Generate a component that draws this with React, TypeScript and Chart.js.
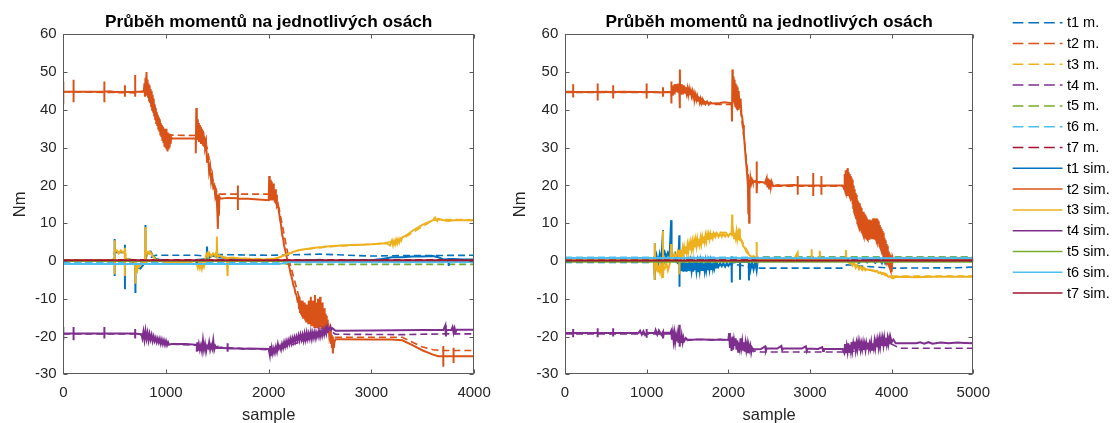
import React, { useEffect, useRef } from 'react';
import { Chart, registerables } from 'chart.js';
Chart.register(...registerables);

type P = [number, number][];

const TITLE = 'Průběh momentů na jednotlivých osách';
const X_LABEL = 'sample';
const Y_LABEL = 'Nm';
const Y_MIN = -30;
const Y_MAX = 60;
const Y_STEP = 10;
const X_STEP = 1000;
const LEFT_X_MAX = 4000;
const RIGHT_X_MAX = 5000;
const LEGEND_LABELS = ['t1 m.', 't2 m.', 't3 m.', 't4 m.', 't5 m.', 't6 m.', 't7 m.', 't1 sim.', 't2 sim.', 't3 sim.', 't4 sim.', 't5 sim.', 't6 sim.', 't7 sim.'];
const COLORS = ['#0072BD', '#D95319', '#EDB120', '#7E2F8E', '#77AC30', '#4DBEEE', '#A2142F'];

// ---------------- LEFT PLOT (0..4000) ----------------
const L_T1_M: P = [[0, 0], [800, 0.3], [900, 1.5], [1300, 1.5], [1400, 1.2], [1500, 1.7], [2000, 1.5], [2500, 1.8], [3000, 1.3], [3200, 1.4], [4000, 1.5]];
const L_T2_M: P = [[0, 44.8], [700, 44.5], [780, 45], [800, 47], [850, 44], [900, 40], [950, 36], [1000, 34], [1050, 33.3], [1100, 33.3], [1290, 33.2], [1350, 33.5], [1400, 30], [1450, 22], [1500, 17.7], [1600, 17.7], [2000, 17.7], [2050, 17.5], [2100, 14], [2200, 0], [2300, -10], [2400, -14], [2500, -16], [2580, -18], [2620, -21], [2650, -20.2], [3300, -20.2], [3400, -21.5], [3500, -22.8], [3600, -23.5], [3700, -23.7], [4000, -23.7]];
const L_T3_M: P = [[0, 0.2], [480, 0.2], [500, 2.5], [600, 2.5], [620, 0.5], [800, 0], [820, 2], [880, 1.5], [900, 0.3], [1300, -0.5], [1350, -1.2], [1400, 1.5], [1500, 1.2], [1600, 0.8], [2000, 0.5], [2100, 0.9], [2300, 2.9], [2600, 3.8], [3100, 4.6], [3300, 5.8], [3600, 10.8], [3700, 11], [4000, 10.9]];
const L_T4_M: P = [[0, -19.3], [700, -19.3], [800, -19.8], [900, -20.8], [1000, -21.8], [1100, -22.1], [1300, -22.3], [1500, -22.8], [2000, -23.5], [2100, -23.3], [2300, -21.5], [2500, -19.8], [2600, -18.5], [2650, -19.4], [3300, -19.5], [3700, -19.3], [4000, -19.3]];
const L_T5_M: P = [[0, -0.4], [2100, -0.5], [2200, -0.9], [4000, -0.9]];
const L_T6_M: P = [[0, -0.4], [4000, -0.4]];
const L_T7_M: P = [[0, 0.3], [4000, 0.3]];

const L_T1_SIM: P = [[0, 0], [480, 0], [500, 0], [500, 5.8], [500, -4], [500, 2.3], [550, 2.3], [600, 2.3], [600, 4.3], [600, -7.5], [600, 0.5], [650, 0.3], [700, -0.5], [700, -8.5], [705, -1.5], [750, -2], [780, -1], [800, 0], [800, 9.5], [800, -1], [810, 2], [850, 2.5], [870, 1.5], [900, 0.5], [1000, 0], [1300, 0], [1300, -1], [1305, 0.3], [1395, 0.5], [1400, 3.8], [1400, 0.3], [1450, 1.5], [1500, 1], [1600, 0.8], [1700, 0.5], [1800, 0.3], [2000, 0], [2200, 0], [2500, 0.3], [2600, -0.3], [2700, 0], [2800, 0.2], [3000, 0.2], [3100, 0.5], [3200, 1], [3300, 1], [3400, 1.2], [3500, 1.2], [3600, 1.3], [3650, 1], [3700, 0.4], [3750, 0.5], [3750, -1.3], [3755, 0.5], [3800, 0.5], [3900, 0.4], [4000, 0.4]];
const L_T2_SIM: P = [[0, 44.8], [0, 41.5], [0, 47.5], [0, 44.8], [100, 44.8], [100, 42], [100, 48], [100, 44.8], [300, 44.8], [400, 44.8], [400, 42], [400, 47.5], [400, 44.8], [450, 44.9], [500, 44.7], [600, 44.7], [600, 43.5], [600, 46.5], [600, 44.7], [700, 44.7], [700, 43.5], [700, 49.2], [700, 44.8], [780, 44.8],
  [785, 45], [790, 47], [795, 43.5], [800, 48.5], [805, 44.5], [810, 50], [815, 44], [820, 48], [825, 43.5], [830, 47], [835, 42.5], [840, 46.5], [845, 42], [850, 45.5], [855, 41], [860, 45], [865, 40], [870, 44], [875, 39.5], [880, 43], [885, 38.5], [890, 41.5], [895, 37.5], [900, 40.5], [905, 36.5], [910, 39.5], [915, 36], [920, 38.5], [925, 35], [930, 38], [935, 34.5], [940, 37.5], [945, 33.5], [950, 36.5], [955, 33], [960, 36], [965, 32], [970, 35.5], [975, 31.5], [980, 35], [985, 30.5], [990, 34.5], [995, 30], [1000, 35], [1005, 29.5], [1010, 34], [1015, 29], [1020, 33.5], [1025, 29.5], [1030, 33.5], [1035, 30], [1040, 33], [1045, 31], [1050, 32.8], [1060, 32.4],
  [1200, 32.4], [1290, 32.4], [1290, 28.5], [1295, 40.5], [1300, 33], [1305, 37.5], [1310, 32], [1315, 36.5], [1320, 31.5], [1325, 36], [1330, 32], [1335, 35.5], [1340, 31], [1345, 35], [1350, 31], [1355, 34.5], [1360, 30.5], [1365, 34], [1370, 30.5], [1375, 33], [1380, 30], [1390, 31.5], [1400, 26], [1410, 28], [1420, 23.5], [1430, 25], [1440, 21], [1450, 22.5], [1460, 19.5], [1470, 20], [1480, 17], [1490, 18], [1500, 13], [1505, 8.5], [1510, 17.5], [1515, 12], [1520, 17], [1530, 16.5],
  [1600, 16.7], [1700, 16.6], [1700, 13.5], [1700, 20], [1700, 16.5], [1800, 16.5], [1900, 16.3], [2000, 16.1],
  [2005, 22.5], [2010, 16], [2015, 21.5], [2020, 16.5], [2025, 21], [2030, 16], [2035, 20], [2040, 16.5], [2045, 20.5], [2050, 16], [2055, 19], [2060, 15.5], [2065, 19], [2070, 15], [2075, 17.5], [2080, 14.5], [2090, 15], [2100, 13],
  [2110, 11], [2120, 9.5], [2130, 7], [2140, 6], [2150, 4], [2160, 3], [2170, 1.5], [2180, 0.5], [2190, -0.5], [2200, -1.5], [2210, -3], [2220, -4], [2230, -5], [2240, -6.5], [2250, -7], [2260, -8.5], [2270, -9], [2280, -10.5],
  [2290, -10], [2295, -12.5], [2300, -9.5], [2305, -13.5], [2310, -10.5], [2315, -14], [2320, -11], [2325, -14.5], [2330, -10.5], [2335, -15], [2340, -11.5], [2345, -15], [2350, -11], [2355, -15.5], [2360, -12], [2365, -16], [2370, -11.5], [2375, -16], [2380, -12.5], [2385, -16.5], [2390, -10.5], [2395, -16], [2400, -12], [2405, -16.5], [2410, -9.5], [2415, -17], [2420, -12], [2425, -16.5], [2430, -10.5], [2435, -17], [2440, -12.5], [2445, -17.5], [2450, -9], [2455, -16.5], [2460, -11], [2465, -17.5], [2470, -12], [2475, -17], [2480, -10], [2485, -18], [2490, -11.5], [2495, -17], [2500, -9.5], [2505, -17.5], [2510, -12], [2515, -18], [2520, -11], [2525, -17.5], [2530, -13], [2535, -18.5], [2540, -12.5], [2545, -18], [2550, -14], [2555, -18.5], [2560, -14.5], [2565, -18.5], [2570, -15.5], [2575, -18.5], [2580, -16.5], [2590, -20], [2600, -18.5], [2605, -22], [2610, -19.5], [2615, -23], [2620, -20], [2625, -24.5], [2630, -21], [2635, -23], [2640, -21.5], [2650, -20.7],
  [2700, -20.7], [3000, -20.8], [3200, -20.8], [3300, -21], [3400, -22.3], [3500, -23.7], [3600, -24.8], [3650, -25.2], [3700, -25.2], [3700, -28], [3700, -22.5], [3700, -25.2], [3800, -25.2], [3800, -27], [3800, -23], [3800, -25.2], [4000, -25.2]];
const L_T3_SIM: P = [[0, 0.2], [480, 0.2], [500, 0.3], [500, -3.5], [500, 5.5], [500, 2.5], [520, 2.8], [540, 2], [560, 2.8], [580, 2.2], [600, 2.6], [600, -4], [600, 3.5], [605, 1], [620, 0.5], [640, 0.2], [660, -0.2], [680, 0], [700, -0.5], [700, -6], [705, -1], [720, -2.5], [730, -1], [740, -1.5], [760, -0.8], [780, -0.5], [795, 0], [800, 9], [800, -1], [805, 3], [820, 2], [840, 2.5], [860, 1.8], [880, 1], [900, 0.3], [950, 0], [1000, -0.3], [1100, -0.5], [1200, -0.5], [1300, -0.8], [1310, -1.8], [1320, -0.5], [1330, -1.8], [1340, -0.6], [1350, -2], [1360, -0.8], [1370, -1.5], [1380, 0], [1390, 1.5], [1400, 2], [1410, 1], [1420, 2.2], [1440, 1.2], [1460, 2], [1480, 1.3], [1490, 2.5], [1495, 6.5], [1500, 1], [1520, 1.5], [1550, 1], [1590, 0.8], [1600, -4], [1605, 0.8], [1650, 0.9], [1700, 0.7], [1800, 0.5], [1900, 0.4], [2000, 0.4], [2050, 0.6], [2100, 0.9], [2150, 1.5], [2200, 2], [2250, 2.5], [2300, 2.9], [2350, 3.1], [2400, 3.3], [2450, 3.5], [2500, 3.6], [2550, 3.8], [2600, 3.9], [2700, 4.1], [2800, 4.2], [2900, 4.3], [3000, 4.4], [3100, 4.6], [3150, 4.7], [3180, 4.1], [3200, 5.4], [3210, 4.2], [3220, 5.3], [3230, 4.4], [3240, 5.6], [3250, 4.6], [3260, 5.7], [3270, 4.9], [3280, 5.9], [3290, 5.4], [3300, 6.2], [3350, 7], [3400, 8], [3450, 8.8], [3500, 9.6], [3550, 10.2], [3600, 10.8], [3620, 11.5], [3640, 10.6], [3650, 11.2], [3700, 10.8], [3750, 10.6], [3800, 10.8], [3900, 10.8], [4000, 10.7]];
const L_T4_SIM: P = [[0, -19.2], [0, -17.5], [0, -21], [0, -19.2], [100, -19.2], [100, -17.5], [100, -21], [100, -19.2], [400, -19.2], [400, -17.5], [400, -20.5], [400, -19.2], [600, -19.2], [700, -19.2], [700, -18], [700, -20.5], [700, -19.2], [760, -19.4],
  [770, -20.5], [780, -18.7], [790, -20.8], [800, -18.5], [810, -20.6], [820, -19], [830, -21], [840, -19.3], [850, -20.8], [860, -19.6], [870, -21.2], [880, -20], [890, -21.2], [900, -20.3], [910, -21.5], [920, -20.5], [930, -21.6], [940, -20.6], [950, -21.9], [960, -20.8], [970, -22], [980, -21], [990, -22.2], [1000, -21.2], [1010, -22.3], [1020, -21.5], [1030, -22.2], [1050, -22],
  [1100, -22], [1150, -22], [1200, -22], [1300, -22.2],
  [1300, -24], [1305, -21.5], [1310, -23.8], [1320, -22], [1330, -23.5], [1340, -22.3], [1350, -23.8], [1360, -21], [1370, -23.5], [1380, -22], [1390, -24], [1400, -22.5], [1410, -23], [1420, -21.5], [1430, -23.5], [1440, -22.3], [1450, -23.2], [1460, -21], [1470, -23.5], [1480, -22.5], [1490, -23], [1500, -22.8],
  [1500, -23], [1600, -23.1], [1600, -21.8], [1600, -24], [1600, -23.1], [1700, -23.2], [1750, -23.3], [1800, -23.2], [2000, -23.3],
  [2010, -24.8], [2015, -22.5], [2020, -25.2], [2030, -23], [2040, -24.5], [2050, -23.2], [2060, -24.3], [2070, -22.8], [2080, -24], [2090, -22], [2100, -23.2],
  [2110, -22.5], [2120, -23.5], [2130, -22], [2140, -23], [2150, -21.5], [2160, -22.6], [2170, -21.2], [2180, -22.3], [2190, -21], [2200, -22], [2210, -20.6], [2220, -21.8], [2230, -20.4], [2240, -21.5], [2250, -20.2], [2260, -21.3], [2270, -20], [2280, -21], [2290, -19.7], [2300, -21], [2310, -19.5], [2320, -20.8], [2330, -19.5], [2340, -21], [2350, -19.2], [2360, -20.8], [2370, -19], [2380, -20.6], [2390, -19.2], [2400, -20.5], [2410, -18.8], [2420, -20.6], [2430, -19], [2440, -20.3], [2450, -18.8], [2460, -20.4], [2470, -19], [2480, -20], [2490, -18.5], [2500, -20], [2510, -18.5], [2520, -19.8], [2530, -18.3], [2540, -19.5], [2550, -18], [2560, -19.2], [2570, -17.5], [2580, -18.5], [2600, -17.3], [2610, -18.2], [2620, -17.8], [2650, -18.5], [2700, -18.5],
  [3000, -18.4], [3500, -18.3], [3700, -18.3], [3720, -17], [3725, -20], [3730, -18.3], [3780, -18.2], [3790, -17.5], [3800, -19], [3810, -17.8], [3820, -18.8], [3830, -18.2], [4000, -18.2]];
const L_T5_SIM: P = [[0, 0], [4000, 0]];
const L_T6_SIM: P = [[0, -0.8], [2100, -0.8], [2200, -0.3], [4000, -0.3]];
const L_T7_SIM: P = [[0, 0.2], [4000, 0.2]];

// ---------------- RIGHT PLOT (0..5000) ----------------
const R_T1_M: P = [[0, -0.4], [1100, -0.4], [1200, 0.5], [1300, 1], [1400, -1], [1500, -1.5], [2000, -1], [2100, -1], [2200, -1.3], [2300, -1.8], [2400, -1.9], [3400, -1.9], [3450, -1], [3600, -1.3], [3800, -1.6], [4000, -1.9], [4800, -1.8], [5000, -1.6]];
const R_T2_M: P = [[0, 44.6], [1300, 44.6], [1400, 45.3], [1500, 45], [1600, 44], [1700, 42.3], [1800, 41.4], [2050, 41.4], [2100, 44], [2150, 40], [2200, 31], [2250, 21], [2300, 21], [2500, 20.2], [2600, 19.8], [3450, 19.8], [3500, 20], [3600, 13], [3700, 9], [3800, 8.5], [3850, 9], [3950, 2], [4000, 0.5], [4100, 0.8], [5000, 0.8]];
const R_T3_M: P = [[0, 0], [1100, 0], [1200, -1], [1300, 0.5], [1400, 1.8], [1500, 3.5], [1600, 5], [1700, 6.2], [1800, 7.2], [1900, 7.5], [2050, 7.5], [2150, 6], [2250, 2], [2350, 0.8], [2500, 0.5], [3450, 0.5], [3500, -0.5], [3700, -2.2], [3900, -3.2], [4000, -4], [4100, -4], [5000, -4]];
const R_T4_M: P = [[0, -19.3], [1300, -19.3], [1400, -20], [1500, -20.8], [1900, -20.8], [2000, -21], [2100, -22], [2200, -23], [2300, -23.8], [2400, -24.1], [3500, -24.1], [3700, -23], [3900, -22], [4000, -22], [4100, -23.1], [5000, -23.1]];
const R_T5_M: P = [[0, 0.4], [2300, 0.5], [2400, 1.1], [5000, 1.1]];
const R_T6_M: P = [[0, 1], [5000, 0.9]];
const R_T7_M: P = [[0, 0.2], [5000, 0.3]];

const R_T1_SIM: P = [[0, 0], [1090, 0], [1100, 4.6], [1100, -5], [1105, 0], [1120, 1.5], [1140, -1], [1160, 1.8], [1180, -0.5], [1200, 8.2], [1200, -2.8], [1205, 1.5], [1220, 2.4], [1240, 1], [1260, 2.2], [1280, 1.2], [1300, 10.8], [1300, 2], [1310, 1.5], [1330, 0.5], [1350, 1.8], [1370, 0.3], [1390, 1], [1400, 6.8], [1400, -6.8], [1405, -1],
  [1410, -2.4], [1420, -0.5], [1430, -2.7], [1440, -0.3], [1450, -2.8], [1460, -0.6], [1470, -2.5], [1480, -0.4], [1490, -2.8], [1500, -0.5], [1510, -2.6], [1520, -0.3], [1530, -2.7], [1540, -0.6], [1550, -2.5], [1560, -0.4], [1570, -2.8], [1580, -0.5], [1590, -2.4], [1600, -0.3], [1610, -2.6], [1620, -0.6], [1630, -2.7], [1640, -0.4], [1650, -2.5], [1660, -0.5], [1670, -2.6], [1680, -0.3], [1690, -2.4], [1700, -0.6], [1710, -2.5], [1720, -0.4], [1730, -2.3], [1740, -0.5], [1750, -2.4], [1760, -0.6], [1770, -2.2], [1780, -0.4], [1790, -2.1], [1800, -0.6], [1810, -2], [1820, -0.5], [1830, -1.8], [1840, -0.6], [1850, -1.7], [1860, -0.5], [1880, -1.5], [1900, -0.6], [1920, -1.4], [1940, -0.6], [1960, -1.5], [1980, -0.6], [2000, -1.3], [2020, -0.6], [2040, -1],
  [2041, 1.2], [2042, -5.7], [2045, -0.5], [2100, -0.3], [2143, -0.3], [2143, -5], [2145, -0.3], [2200, -0.3], [2250, -0.3], [2253, -5.2], [2256, -0.5], [2270, -2.4], [2290, -0.2], [2310, -2.2], [2330, -0.3], [2347, -2.5], [2360, 0], [2500, 0], [3400, 0], [3450, 0.6], [3500, -0.4], [3550, 0.5], [3600, -0.5], [3650, 0.4], [3700, -0.4], [3750, 0.6], [3800, -0.5], [3850, 0.5], [3880, -0.6], [3900, 0.9], [3920, -0.5], [3940, 0.8], [3960, -0.6], [3980, 0.7], [4000, -0.4], [4020, 0], [5000, 0]];
const R_T2_SIM: P = [[0, 44.8], [0, 43.1], [0, 46.1], [0, 44.8], [100, 44.8], [100, 43.3], [100, 46.8], [100, 44.8], [400, 44.7], [400, 42.5], [400, 47], [400, 44.7], [500, 44.8], [590, 44.7], [590, 43], [590, 46.5], [590, 44.7], [700, 44.8], [900, 44.7], [1000, 44.8], [1000, 43], [1000, 47], [1000, 44.8], [1100, 44.7], [1200, 44.6], [1200, 43.5], [1200, 46], [1200, 44.7], [1300, 44.8], [1300, 41.7], [1300, 47.5],
  [1310, 45.5], [1315, 44], [1320, 46.2], [1325, 44.3], [1330, 46.5], [1335, 44.6], [1340, 46.8], [1345, 44.5], [1350, 46.8], [1355, 44.9], [1360, 46.5], [1365, 44.7], [1370, 46.6], [1375, 45], [1380, 46.9], [1385, 44.8], [1390, 47], [1400, 45], [1405, 40.4], [1408, 50.7], [1410, 45.5], [1415, 44], [1420, 46.5], [1425, 44.3], [1430, 46.8], [1435, 44.5], [1440, 46.5], [1445, 44.4], [1450, 46.5], [1455, 44.6], [1460, 46.2], [1465, 44.4], [1470, 46], [1475, 44.2], [1480, 45.8], [1490, 44.3], [1500, 45.6], [1510, 44], [1520, 45.4], [1530, 43.9], [1540, 45], [1550, 43.7], [1560, 44.8], [1570, 43.4], [1580, 44.4], [1590, 43], [1600, 44], [1610, 42.7], [1620, 43.6], [1630, 42.4], [1640, 43.2], [1650, 42], [1660, 42.9], [1670, 41.8], [1680, 42.6], [1690, 41.6], [1700, 42.3], [1720, 41.5], [1740, 42.2], [1760, 41.4], [1780, 42], [1800, 41.7], [1900, 41.8], [1950, 42], [2000, 41.9], [2040, 41.8],
  [2045, 36.9], [2050, 50.7], [2055, 43], [2060, 48.8], [2065, 42], [2070, 48], [2075, 41.5], [2080, 47.5], [2085, 41], [2090, 47], [2095, 40.8], [2100, 46.5], [2105, 40.5], [2110, 46], [2115, 40.5], [2120, 45], [2125, 40], [2130, 44.5], [2140, 40.5], [2150, 43], [2160, 39], [2170, 38], [2180, 36], [2190, 33.5], [2200, 31], [2210, 28], [2220, 25.5], [2230, 23], [2240, 20], [2245, 12.6], [2250, 20.5], [2255, 10.1], [2260, 19.5], [2270, 22], [2280, 20.5], [2290, 21.5], [2300, 20.8], [2330, 21.2], [2345, 20.9], [2347, 26.3], [2349, 17.9], [2352, 20.9], [2400, 20.9], [2450, 20.7], [2470, 22], [2480, 19.5], [2490, 21.8], [2500, 19.2], [2510, 21.5], [2520, 19.5], [2530, 21], [2550, 19.8], [2600, 20.1], [2650, 20], [2800, 20.1], [2850, 20], [2850, 17.5], [2850, 22.5], [2850, 20], [3040, 20], [3040, 17.2], [3040, 23.3], [3040, 20], [3140, 20], [3140, 17.5], [3140, 22.5], [3140, 20], [3400, 20],
  [3420, 19], [3425, 23], [3430, 18.5], [3435, 24], [3440, 18], [3445, 23.5], [3450, 17.5], [3455, 24.2], [3460, 17.2], [3465, 24.6], [3470, 18], [3475, 23.5], [3480, 17.5], [3485, 23], [3490, 17], [3495, 22.5], [3500, 16.5], [3505, 22], [3510, 16], [3515, 21.5], [3520, 15], [3525, 21], [3530, 14], [3535, 20], [3540, 13], [3545, 19], [3550, 12.5], [3555, 18], [3560, 11.5], [3565, 17.5], [3570, 11], [3575, 16.5], [3580, 10], [3585, 16], [3590, 9.5], [3595, 15.5], [3600, 9], [3605, 15.3], [3610, 8.5], [3615, 14.5], [3620, 8], [3625, 14], [3630, 7.5], [3635, 13.5], [3640, 7.5], [3645, 13], [3650, 7], [3655, 13], [3660, 6.5], [3665, 12.5], [3670, 6.5], [3675, 12], [3680, 6], [3685, 12], [3690, 6], [3695, 11.5], [3700, 5.8], [3705, 11], [3710, 5.6], [3715, 10.5], [3720, 6], [3725, 11], [3730, 5.6], [3735, 10], [3740, 6], [3745, 10.5], [3750, 6.5], [3755, 10.8], [3760, 6], [3765, 11], [3770, 6.5], [3775, 11.3], [3780, 6], [3785, 11], [3790, 5.6], [3795, 11.2], [3800, 6], [3805, 11], [3810, 5.5], [3815, 11.3], [3820, 5], [3825, 11], [3830, 5], [3835, 10.5], [3840, 4.5], [3845, 10], [3850, 4], [3855, 9.5], [3860, 3.5], [3865, 9], [3870, 3], [3875, 8.5], [3880, 2.5], [3885, 8], [3890, 2], [3895, 7.5], [3900, 1.5], [3905, 7], [3910, 1], [3915, 6], [3920, 0.5], [3925, 5.5], [3930, 0], [3935, 4.5], [3940, -0.5], [3945, 4], [3950, -1], [3955, 3], [3960, -1], [3965, 2.5], [3970, -1.5], [3975, 2], [3980, -2], [3985, 1.5], [3990, -2.5], [3995, 1], [4000, -3], [4010, 1], [4020, 0.3],
  [4100, 0.4], [4200, 0.6], [4300, 0.4], [4400, 0.6], [4500, 0.4], [4600, 0.6], [4700, 0.5], [4800, 0.5], [5000, 0.5]];
const R_T3_SIM: P = [[0, 0.1], [1090, 0.1], [1100, -5], [1100, 4.7], [1105, -1], [1120, -2], [1130, -0.8], [1140, -2.8], [1150, -1.2], [1160, -2.5], [1170, -0.8], [1180, -3], [1190, -1.5], [1200, 8], [1200, -4.5], [1205, -1.5], [1220, -2], [1240, -0.5], [1260, -2.5], [1280, -1], [1290, 0], [1300, 4.5], [1300, 0], [1310, 1.5], [1320, 0.5], [1340, 2], [1360, 1], [1380, 2.5], [1400, 0.5], [1400, -3.5],
  [1405, 3], [1410, 1.2], [1420, 3], [1430, 1.5], [1440, 3.3], [1450, 1.8], [1460, 3.6], [1470, 2.1], [1480, 3.9], [1490, 2.3], [1500, 4.2], [1510, 2.6], [1520, 4.4], [1530, 2.9], [1540, 4.7], [1550, 3.1], [1560, 5], [1570, 3.4], [1580, 5.2], [1590, 3.6], [1600, 5.5], [1610, 3.9], [1620, 5.7], [1630, 4.1], [1640, 5.9], [1650, 4.4], [1660, 6.1], [1670, 4.6], [1680, 6.3], [1690, 4.9], [1700, 6.5], [1710, 5.1], [1720, 6.7], [1730, 5.3], [1740, 6.9], [1750, 5.6], [1760, 7], [1770, 5.8], [1780, 7.1], [1790, 6], [1800, 7.3], [1810, 6.2], [1820, 7.3], [1840, 6.3], [1860, 7.4], [1880, 6.4], [1900, 7.3], [1920, 6.4], [1940, 7.3], [1960, 6.5], [1980, 7.2], [2000, 6.5], [2020, 7.2], [2040, 7],
  [2048, 12.3], [2050, 6.5], [2060, 7.8], [2070, 6], [2080, 7.5], [2090, 6.2], [2100, 7.8], [2110, 5.8], [2120, 7.2], [2130, 5.5], [2140, 8.6], [2145, 5.5], [2160, 5.5], [2180, 4], [2200, 3.5], [2220, 2.5], [2240, 2], [2260, 1.5], [2280, 1.2], [2300, 1], [2345, 0.8], [2347, 5], [2349, 0.6], [2400, 0.5], [2500, 0.4], [2600, 0.5], [2800, 0.4], [2850, 2.2], [2855, 0.4], [3020, 0.4], [3020, 3.1], [3025, 0.4], [3120, 0.4], [3120, 2.7], [3125, 0.4], [3300, 0.4], [3440, 0.4], [3440, 2.9], [3445, 0.2], [3470, -0.3], [3490, -0.6], [3500, -0.2], [3520, -1.2], [3540, -0.5], [3560, -1.8], [3580, -1], [3600, -2.2], [3620, -1.5], [3640, -2.4], [3660, -1.8], [3680, -2.5], [3700, -2.2], [3720, -2.4], [3740, -2.3], [3760, -2.6], [3780, -2.5], [3800, -2.8], [3820, -2.6], [3840, -3.2], [3860, -3], [3880, -3.5], [3900, -3.3], [3920, -3.8], [3940, -3.8], [3960, -4.2], [3980, -4], [4000, -4.4], [4020, -4.6], [4040, -4.3], [4100, -4.2], [4300, -4.3], [4500, -4.2], [4700, -4.2], [4900, -4.2], [5000, -4.2]];
const R_T4_SIM: P = [[0, -19.1], [0, -17.8], [0, -20.5], [0, -19.1], [100, -19.1], [100, -18], [100, -20.2], [100, -19.1], [400, -19.1], [400, -17.8], [400, -20.2], [400, -19.1], [500, -19.1], [590, -19.1], [590, -17.8], [590, -20], [590, -19.1], [700, -19.1], [900, -19.1], [920, -18.5], [940, -19.5], [960, -18.6], [980, -19.6], [1000, -19.1], [1000, -18], [1000, -20.3], [1000, -19.1], [1100, -19.1], [1110, -18.3], [1130, -19.5], [1150, -18.4], [1180, -19.6], [1200, -18.8], [1200, -20.5], [1210, -19], [1290, -19],
  [1300, -18.5], [1310, -20.8], [1320, -19], [1330, -21.2], [1340, -19.2], [1350, -21.5], [1360, -19.8], [1370, -21.3], [1380, -19.5], [1390, -21.7], [1400, -16.9], [1405, -22.7], [1410, -20], [1420, -21.7], [1430, -19.8], [1440, -21.5], [1450, -20.3], [1460, -21.2], [1480, -20.4], [1500, -21], [1600, -20.8], [1700, -20.8], [1800, -20.9], [1900, -20.8], [2000, -20.9],
  [2010, -19.1], [2020, -23], [2030, -20.5], [2040, -23.8], [2050, -20], [2060, -23.5], [2070, -21], [2080, -22.5], [2090, -20.5], [2100, -23.5], [2110, -21], [2120, -24], [2130, -21.5], [2140, -23], [2150, -20.5], [2160, -22.8], [2170, -21.2], [2180, -23.5], [2190, -21.5], [2200, -24], [2210, -21.8], [2220, -23.6], [2230, -22], [2240, -24.4], [2250, -22.3], [2260, -23.5], [2270, -22.5], [2280, -24.2], [2290, -23], [2300, -23.4],
  [2400, -23.3], [2450, -22.6], [2460, -23.8], [2470, -23.2], [2600, -23.2], [2650, -22.5], [2660, -23.6], [2670, -23.2], [2900, -23.2], [2950, -22.6], [2960, -23.8], [2970, -23.2], [3100, -23.3], [3150, -22.8], [3160, -23.8], [3170, -23.3], [3400, -23.3],
  [3420, -24.3], [3430, -22], [3440, -24.4], [3450, -22.5], [3460, -24], [3470, -21.8], [3480, -24], [3490, -22.2], [3500, -23.8], [3510, -21.5], [3520, -23.6], [3530, -21.8], [3540, -23.2], [3550, -21.3], [3560, -23.5], [3570, -21.8], [3580, -23.4], [3590, -21.5], [3600, -23.2], [3610, -21.6], [3620, -23.4], [3630, -21.9], [3640, -23.3], [3650, -21.7], [3660, -23.5], [3670, -22], [3680, -23.5], [3690, -21.8], [3700, -23.2], [3710, -21.6], [3720, -23.3], [3730, -21.9], [3740, -23.1], [3750, -21.5], [3760, -23.5], [3770, -21.8], [3780, -23], [3790, -21.2], [3800, -23], [3810, -21.3], [3820, -22.8], [3830, -21], [3840, -22.8], [3850, -20.8], [3860, -22.6], [3870, -20.7], [3880, -22.5], [3890, -20.6], [3900, -22.3], [3910, -20.4], [3920, -22.3], [3930, -20.3], [3940, -22], [3950, -20.4], [3960, -22], [3970, -20.5], [3980, -21.8], [3990, -20.6], [4000, -21.5], [4020, -20.8], [4050, -21.8],
  [4300, -21.8], [4350, -21.5], [4400, -21.9], [4450, -21.5], [4500, -21.9], [4600, -21.6], [4700, -21.8], [4800, -21.6], [4900, -21.7], [5000, -21.8]];
const R_T5_SIM: P = [[0, -0.2], [5000, -0.2]];
const R_T6_SIM: P = [[0, 0.8], [5000, 0.7]];
const R_T7_SIM: P = [[0, 0.1], [5000, 0.1]];

const LEFT_M = [L_T1_M, L_T2_M, L_T3_M, L_T4_M, L_T5_M, L_T6_M, L_T7_M];
const LEFT_SIM = [L_T1_SIM, L_T2_SIM, L_T3_SIM, L_T4_SIM, L_T5_SIM, L_T6_SIM, L_T7_SIM];
const RIGHT_M = [R_T1_M, R_T2_M, R_T3_M, R_T4_M, R_T5_M, R_T6_M, R_T7_M];
const RIGHT_SIM = [R_T1_SIM, R_T2_SIM, R_T3_SIM, R_T4_SIM, R_T5_SIM, R_T6_SIM, R_T7_SIM];

const FONT = '"Liberation Sans", Arial, Helvetica, sans-serif';
const AXIS_COLOR = '#262626';
const BOX_COLOR = '#5a5a5a';
const H = 423;
const PLOT_TOP = 34.3;
const PLOT_BOTTOM = 374.3;
const DASH = [7, 4];

type Geom = { canvasLeft: number; canvasWidth: number; plotLeft: number; plotRight: number; nmX: number; legend: boolean };

const decorPlugin = {
  id: 'decor',
  afterDraw(chart: any, _args: any, o: any) {
    const { ctx, chartArea: ca } = chart;
    const xs = chart.scales.x;
    const ys = chart.scales.y;
    ctx.save();
    ctx.strokeStyle = BOX_COLOR;
    ctx.lineWidth = 1;
    ctx.setLineDash([]);
    const L = Math.round(ca.left) + 0.5, R = Math.round(ca.right) - 0.5, T = Math.round(ca.top) + 0.5, B = Math.round(ca.bottom) - 0.5;
    ctx.strokeRect(L, T, R - L, B - T);
    ctx.beginPath();
    const tl = 4;
    for (let v = Y_MIN; v <= Y_MAX; v += Y_STEP) {
      const py = Math.round(ys.getPixelForValue(v)) + 0.5;
      ctx.moveTo(L, py); ctx.lineTo(L + tl, py);
      ctx.moveTo(R, py); ctx.lineTo(R - tl, py);
    }
    for (let v = 0; v <= xs.max; v += X_STEP) {
      const px = Math.round(xs.getPixelForValue(v)) + 0.5;
      ctx.moveTo(px, B); ctx.lineTo(px, B - tl);
      ctx.moveTo(px, T); ctx.lineTo(px, T + tl);
    }
    ctx.stroke();
    ctx.fillStyle = '#000';
    ctx.font = `bold 17.3px ${FONT}`;
    ctx.textAlign = 'center';
    ctx.textBaseline = 'alphabetic';
    ctx.fillText(TITLE, (ca.left + ca.right) / 2, 26.5);
    ctx.fillStyle = AXIS_COLOR;
    ctx.font = `16.5px ${FONT}`;
    ctx.fillText(X_LABEL, (ca.left + ca.right) / 2, 419.5);
    ctx.save();
    ctx.translate(o.nmX, (ca.top + ca.bottom) / 2);
    ctx.rotate(-Math.PI / 2);
    ctx.fillText(Y_LABEL, 0, 0);
    ctx.restore();
    if (o.legend) {
      const off = o.canvasLeft;
      const x0 = 1012.7 - off, x1 = 1062.5 - off, tx = 1067 - off;
      ctx.font = `14.5px ${FONT}`;
      ctx.textAlign = 'left';
      ctx.textBaseline = 'middle';
      ctx.lineWidth = 1.5;
      LEGEND_LABELS.forEach((lab, i) => {
        const y = 22.7 + i * 20.8;
        ctx.strokeStyle = COLORS[i % 7];
        ctx.setLineDash(i < 7 ? [10.7, 5] : []);
        ctx.beginPath();
        ctx.moveTo(x0, y); ctx.lineTo(x1, y);
        ctx.stroke();
        ctx.fillStyle = '#000';
        ctx.fillText(lab, tx, y + 0.5);
      });
    }
    ctx.restore();
  },
};

function buildConfig(m: P[], s: P[], xMax: number, g: Geom): any {
  const datasets: any[] = [];
  const all = [...m.map((d, i) => ({ d, i, dashed: true })), ...s.map((d, i) => ({ d, i, dashed: false }))];
  all.forEach((e, k) => {
    datasets.push({
      data: e.d.map(([x, y]) => ({ x, y })),
      borderColor: COLORS[e.i],
      borderWidth: e.dashed ? 1.6 : 2,
      borderDash: e.dashed ? DASH : [],
      pointRadius: 0,
      tension: 0,
      fill: false,
      order: all.length - k,
    });
  });
  return {
    type: 'line',
    data: { datasets },
    options: {
      responsive: false,
      animation: false,
      devicePixelRatio: 1,
      events: [],
      layout: { padding: { left: 0, top: PLOT_TOP, bottom: 0, right: g.canvasWidth - (g.plotRight - g.canvasLeft) } },
      plugins: {
        legend: { display: false },
        title: { display: false },
        tooltip: { enabled: false },
        decor: { nmX: g.nmX - g.canvasLeft, legend: g.legend, canvasLeft: g.canvasLeft },
      },
      scales: {
        x: {
          type: 'linear', min: 0, max: xMax,
          grid: { display: false, drawTicks: false, tickLength: 0 }, border: { display: false },
          ticks: { stepSize: X_STEP, font: { family: FONT, size: 15 }, color: AXIS_COLOR, padding: 9.2, maxRotation: 0, autoSkip: false, callback: (v: any) => String(v) },
          afterFit: (sc: any) => { sc.height = H - PLOT_BOTTOM; },
        },
        y: {
          type: 'linear', min: Y_MIN, max: Y_MAX,
          grid: { display: false, drawTicks: false, tickLength: 0 }, border: { display: false },
          ticks: { stepSize: Y_STEP, font: { family: FONT, size: 15 }, color: AXIS_COLOR, padding: 6.7, callback: (v: any) => String(v) },
          afterFit: (sc: any) => { sc.width = g.plotLeft - g.canvasLeft; },
        },
      },
    },
    plugins: [decorPlugin],
  };
}

function Plot({ m, s, xMax, g }: { m: P[]; s: P[]; xMax: number; g: Geom }) {
  const ref = useRef<HTMLCanvasElement>(null);
  useEffect(() => {
    if (!ref.current) return;
    const chart = new Chart(ref.current, buildConfig(m, s, xMax, g));
    return () => chart.destroy();
  }, []);
  return (
    <canvas ref={ref} width={g.canvasWidth} height={H}
      style={{ position: 'absolute', left: g.canvasLeft, top: 0, width: g.canvasWidth, height: H }} />
  );
}

export default function App() {
  return (
    <div style={{ position: 'absolute', left: 0, top: 0, width: 1117, height: H, background: '#fff', overflow: 'hidden' }}>
      <Plot m={LEFT_M} s={LEFT_SIM} xMax={LEFT_X_MAX}
        g={{ canvasLeft: 0, canvasWidth: 500, plotLeft: 63.3, plotRight: 476.7, nmX: 24.5, legend: false }} />
      <Plot m={RIGHT_M} s={RIGHT_SIM} xMax={RIGHT_X_MAX}
        g={{ canvasLeft: 500, canvasWidth: 617, plotLeft: 565, plotRight: 973.3, nmX: 525, legend: true }} />
    </div>
  );
}
